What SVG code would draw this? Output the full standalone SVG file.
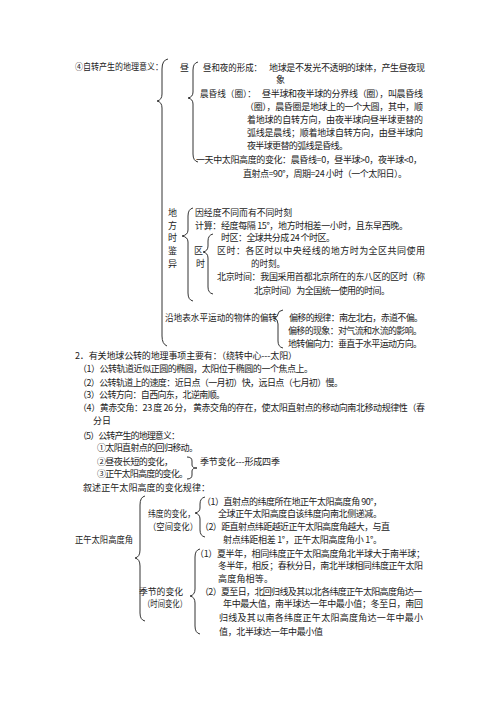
<svg xmlns="http://www.w3.org/2000/svg" width="500" height="707" viewBox="0 0 500 707">
<style>
text{font-family:"Noto Sans CJK SC","Noto Sans CJK JP",sans-serif;font-size:9px;fill:#222}
.b{fill:none;stroke:#333;stroke-width:1}
</style>
<rect width="500" height="707" fill="#fff"/>
<g id="connectors">
<path class="b" d="M168,59 Q162,60 162,69 L162,94 Q162,100 157,101 Q162,102 162,108 L162,336 Q162,344 167,346"/>
<path class="b" d="M198,62 Q193,63 193,70 L193,92 Q193,97 188,98 Q193,99 193,104 L193,154 Q193,161 198,162"/>
<path class="b" d="M193,208 Q188,209 188,216 L188,230 Q188,235 182,236 Q188,237 188,242 L188,293 Q188,300 193,301"/>
<path class="b" d="M213,234 Q208,235 208,241 L208,246 Q208,251 203,252 Q208,253 208,258 L208,287 Q208,293 213,294"/>
<path class="b" d="M283,310 Q278,311 278,314 Q278,317 274,318 Q278,319 278,324 L278,341 Q278,347 283,348"/>
<path class="b" d="M187,457 Q192,457 192,461 L192,465 Q192,468 197,468 Q192,468 192,471 L192,475 Q192,479 187,479"/>
<path class="b" d="M145,496 Q140,497 140,505 L140,550 Q140,557 135,558 Q140,559 140,566 L140,613 Q140,620 145,621"/>
<path class="b" d="M205,497 Q200,498 200,504 L200,508 Q200,512 195,513 Q200,514 200,519 L200,530 Q200,536 205,537"/>
<path class="b" d="M200,549 Q195,550 195,557 L195,589 Q195,595 190,596 Q195,597 195,603 L195,626 Q195,633 200,634"/>
</g>
<g id="n-rotation">
<text x="75" y="69.5" textLength="88" lengthAdjust="spacingAndGlyphs">④自转产生的地理意义：</text>
</g>
<g id="n-day">
<text x="180" y="70.5">昼</text>
</g>
<g id="n-daynight">
<text x="203" y="70.5" textLength="59" lengthAdjust="spacingAndGlyphs">昼和夜的形成：</text>
<text x="269" y="70.5" textLength="156" lengthAdjust="spacing">地球是不发光不透明的球体，产生昼夜现</text>
<text x="276" y="82.5">象</text>
</g>
<g id="n-terminator">
<text x="200" y="96.5" textLength="56" lengthAdjust="spacingAndGlyphs">晨昏线（圈）：</text>
<text x="262" y="96.5" textLength="161" lengthAdjust="spacing">昼半球和夜半球的分界线（圈），叫晨昏线</text>
<text x="245" y="109.5" textLength="178" lengthAdjust="spacing">（圈），晨昏圈是地球上的一个大圆，其中，顺</text>
<text x="247" y="123" textLength="176" lengthAdjust="spacing">着地球的自转方向，由夜半球向昼半球更替的</text>
<text x="247" y="136" textLength="176" lengthAdjust="spacing">弧线是晨线；顺着地球自转方向，由昼半球向</text>
<text x="247" y="149" textLength="101" lengthAdjust="spacing">夜半球更替的弧线是昏线。</text>
</g>
<g id="n-sunheight">
<text x="196" y="162.5" textLength="226" lengthAdjust="spacing">一天中太阳高度的变化：晨昏线=0，昼半球&gt;0，夜半球&lt;0，</text>
<text x="243" y="176.5" textLength="164" lengthAdjust="spacing">直射点=90°，周期=24 小时（一个太阳日）。</text>
</g>
<g id="n-localtime">
<text x="168" y="215.5">地</text>
<text x="168" y="228.5">方</text>
<text x="168" y="240.5">时</text>
<text x="168" y="253.5">鉴</text>
<text x="168" y="266.5">异</text>
</g>
<g id="n-longitude">
<text x="195" y="215.5" textLength="97" lengthAdjust="spacingAndGlyphs">因经度不同而有不同时刻</text>
<text x="195" y="228.5" textLength="213" lengthAdjust="spacing">计算：经度每隔 15°，地方时相差一小时，且东早西晚。</text>
</g>
<g id="n-zonetime-label">
<text x="194" y="253.5">区</text>
<text x="196" y="266.5">时</text>
</g>
<g id="n-zonetime">
<text x="221" y="240.5" textLength="114" lengthAdjust="spacing">时区：全球共分成 24 个时区。</text>
<text x="217" y="253.5" textLength="208" lengthAdjust="spacing">区时：各区时以中央经线的地方时为全区共同使用</text>
<text x="251" y="266.5" textLength="34" lengthAdjust="spacingAndGlyphs">的时刻。</text>
<text x="217" y="279.5" textLength="208" lengthAdjust="spacing">北京时间：我国采用首都北京所在的东八区的区时（称</text>
<text x="254" y="293.5" textLength="136" lengthAdjust="spacing">北京时间）为全国统一使用的时间。</text>
</g>
<g id="n-deflect">
<text x="165" y="320.5" textLength="112" lengthAdjust="spacingAndGlyphs">沿地表水平运动的物体的偏转</text>
</g>
<g id="n-deflect-items">
<text x="289" y="320.5" textLength="134" lengthAdjust="spacing">偏移的规律：南左北右，赤道不偏。</text>
<text x="288" y="333.5" textLength="134" lengthAdjust="spacing">偏移的现象：对气流和水流的影响。</text>
<text x="288" y="346.5" textLength="134" lengthAdjust="spacing">地转偏向力：垂直于水平运动方向。</text>
</g>
<g id="n-revolution">
<text x="75" y="358.5" textLength="222" lengthAdjust="spacing">2．有关地球公转的地理事项主要有：（绕转中心---太阳）</text>
<text x="78" y="371.5" textLength="235" lengthAdjust="spacing">（1）公转轨道近似正圆的椭圆，太阳位于椭圆的一个焦点上。</text>
<text x="78" y="385.5" textLength="265" lengthAdjust="spacing">（2）公转轨道上的速度：近日点（一月初）快，远日点（七月初）慢。</text>
<text x="78" y="397.5" textLength="147" lengthAdjust="spacing">（3）公转方向：自西向东，北逆南顺。</text>
<text x="78" y="410.5" textLength="347" lengthAdjust="spacing">（4）黄赤交角：23 度 26 分，  黄赤交角的存在，使太阳直射点的移动向南北移动规律性（春</text>
<text x="93" y="423.5">分日</text>
<text x="78" y="438.5" textLength="102" lengthAdjust="spacing">（5）公转产生的地理意义：</text>
<text x="97" y="450.5" textLength="101" lengthAdjust="spacing">①太阳直射点的回归移动。</text>
<text x="97" y="464.5" textLength="76" lengthAdjust="spacing">②昼夜长短的变化，</text>
<text x="97" y="476.5" textLength="91" lengthAdjust="spacing">③正午太阳高度的变化。</text>
</g>
<g id="n-season">
<text x="200" y="464.5" textLength="80" lengthAdjust="spacing">季节变化---形成四季</text>
</g>
<g id="n-noon-rule">
<text x="83" y="490.5" textLength="127" lengthAdjust="spacing">叙述正午太阳高度的变化规律：</text>
</g>
<g id="n-noon">
<text x="75" y="542.5" textLength="58" lengthAdjust="spacingAndGlyphs">正午太阳高度角</text>
</g>
<g id="n-latitude">
<text x="148" y="516.5" textLength="47" lengthAdjust="spacingAndGlyphs">纬度的变化，</text>
<text x="148" y="529.5" textLength="50" lengthAdjust="spacingAndGlyphs">（空间变化）</text>
</g>
<g id="n-latitude-items">
<text x="202" y="504.5" textLength="180" lengthAdjust="spacing">（1）直射点的纬度所在地正午太阳高度角 90°，</text>
<text x="218" y="516.5" textLength="164" lengthAdjust="spacing">全球正午太阳高度自该纬度向南北侧递减。</text>
<text x="200" y="529.5" textLength="190" lengthAdjust="spacing">（2）距直射点纬距越近正午太阳高度角越大，与直</text>
<text x="223" y="542.5" textLength="159" lengthAdjust="spacing">射点纬距相差 1°，正午太阳高度角小 1°。</text>
</g>
<g id="n-seasonal">
<text x="139" y="594.5" textLength="44" lengthAdjust="spacingAndGlyphs">季节的变化</text>
<text x="143" y="606.5" textLength="44" lengthAdjust="spacingAndGlyphs">（时间变化）</text>
</g>
<g id="n-seasonal-items">
<text x="195" y="556.5" textLength="230" lengthAdjust="spacing">（1）夏半年，相同纬度正午太阳高度角北半球大于南半球；</text>
<text x="218" y="568.5" textLength="205" lengthAdjust="spacing">冬半年，相反；春秋分日，南北半球相同纬度正午太阳</text>
<text x="218" y="581.5" textLength="55" lengthAdjust="spacing">高度角相等。</text>
<text x="200" y="594.5" textLength="222" lengthAdjust="spacing">（2）夏至日，北回归线及其以北各纬度正午太阳高度角达一</text>
<text x="223" y="606.5" textLength="200" lengthAdjust="spacing">年中最大值，南半球达一年中最小值；冬至日，南回</text>
<text x="219" y="620.5" textLength="204" lengthAdjust="spacing">归线及其以南各纬度正午太阳高度角达一年中最小</text>
<text x="219" y="634.5" textLength="104" lengthAdjust="spacing">值，北半球达一年中最小值</text>
</g>
</svg>
